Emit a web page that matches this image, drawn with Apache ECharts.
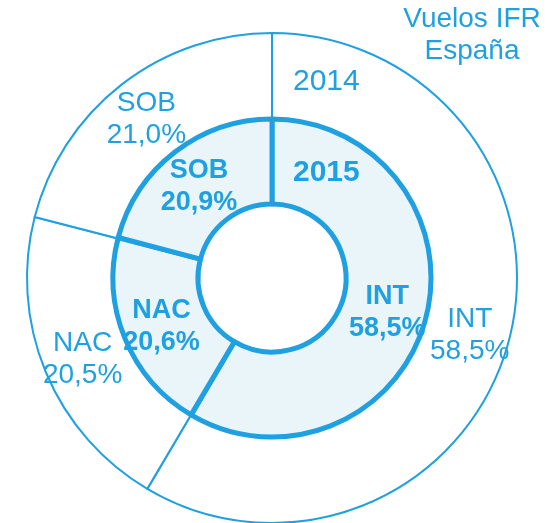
<!DOCTYPE html>
<html lang="es">
<head>
    <meta charset="UTF-8">
    <title>Vuelos IFR España</title>
    <style>
        * { margin: 0; padding: 0; box-sizing: border-box; }
        body { background: #fff; }
        #chart { width: 546px; height: 523px; }
    </style>
</head>
<body>
    <div id="chart"></div>

    <script src="https://cdn.jsdelivr.net/npm/echarts/dist/echarts.min.js"></script>
    <script>
    // datos
    const categories = ['INT', 'NAC', 'SOB'];
    const values2014 = [58.5, 20.5, 21.0];
    const values2015 = [58.5, 20.6, 20.9];
    const years = ['2014', '2015'];
    const titleLines = ['Vuelos IFR', 'España'];

    (() => {
        const BLUE = '#1fa0e0';
        const FILL = '#e9f5f9';
        const FONT = "'Liberation Sans', Arial, sans-serif";
        const chart = echarts.init(document.getElementById('chart'));

        const pct = (v) => v.toFixed(1).replace('.', ',') + '%';
        const toData = (vals) => categories.map((name, i) => ({ name, value: vals[i] }));

        const ring = (vals, radius, fill, border, bold) => ({
            type: 'pie',
            center: [272, 278],
            radius,
            startAngle: 90,
            clockwise: true,
            silent: true,
            animation: false,
            avoidLabelOverlap: false,
            itemStyle: { color: fill, borderColor: BLUE, borderWidth: border },
            label: {
                show: true,
                position: 'inside',
                color: BLUE,
                fontFamily: FONT,
                fontSize: bold ? 27 : 28,
                fontWeight: bold ? 'bold' : 'normal',
                lineHeight: 32,
                offset: [0, 3],
                formatter: (p) => p.name + '\n' + pct(p.value)
            },
            labelLine: { show: false },
            emphasis: { disabled: true },
            data: toData(vals)
        });

        const text = (str, x, y, bold, align, size) => ({
            type: 'text',
            x, y,
            z: 10,
            silent: true,
            style: {
                text: str,
                fill: BLUE,
                font: (bold ? 'bold ' : '') + (size || 28) + 'px ' + FONT,
                align: align || 'left',
                verticalAlign: 'middle'
            }
        });

        chart.setOption({
            backgroundColor: '#fff',
            animation: false,
            series: [
                ring(values2014, [159, 245], '#fff', 2, false),
                ring(values2015, [74, 159], FILL, 5, true)
            ],
            graphic: [
                text(titleLines[0], 472, 19, false, 'center'),
                text(titleLines[1], 472, 51, false, 'center'),
                text(years[0], 293, 82, false, 'left', 30),
                text(years[1], 293, 173, true, 'left', 30)
            ]
        });
    })();
    </script>
</body>
</html>
